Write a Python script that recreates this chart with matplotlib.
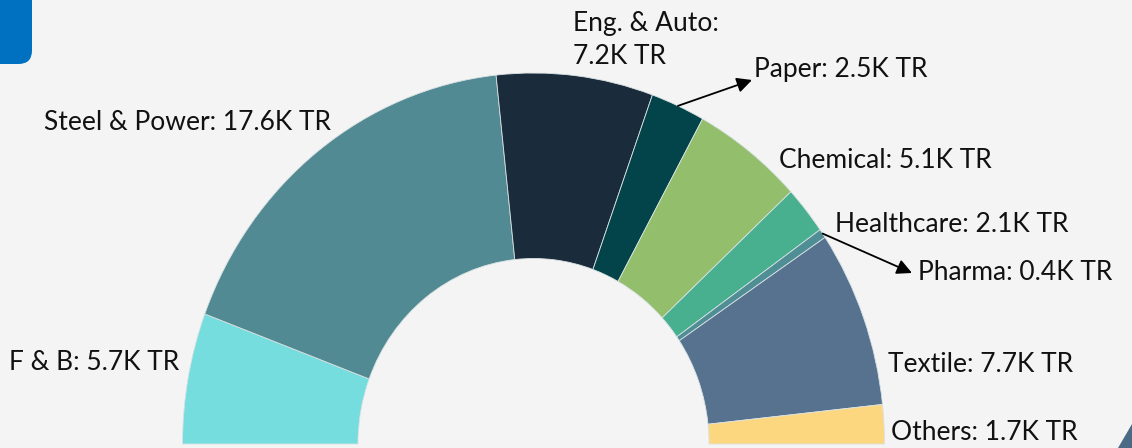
import numpy as np
import matplotlib.pyplot as plt
from matplotlib.patches import FancyBboxPatch, Polygon

# installed capacity by sector (K TR)
sectors = ['F & B', 'Steel & Power', 'Eng. & Auto', 'Paper', 'Chemical',
           'Healthcare', 'Pharma', 'Textile', 'Others']
capacity = [5.7, 17.6, 7.2, 2.5, 5.1, 2.1, 0.4, 7.7, 1.7]
colors = ['#76DDDE', '#528A93', '#1A2B3B', '#024449', '#93BF6C',
          '#48AF8F', '#4E8E94', '#56728E', '#FDD77F']

W, H = 1132, 448
CX, CY, RX, RY = 533.5, 444, 351, 371

plt.rcParams['font.family'] = ['Lato', 'DejaVu Sans']

fig = plt.figure(figsize=(W / 100, H / 100), dpi=100)
fig.patch.set_facecolor('#F4F4F4')
ax = fig.add_axes([0, 0, 1, 1])
ax.set_facecolor('none')

# half donut: the hidden last wedge takes the lower half
values = capacity + [sum(capacity)]
wedges, _ = ax.pie(values, colors=colors + ['none'], startangle=180,
                   counterclock=False, radius=1.0,
                   wedgeprops=dict(width=0.5, edgecolor='#d9e2e4', linewidth=0.6))
wedges[-1].set_visible(False)
ax.set_aspect('auto')
ax.set_xlim(-CX / RX, (W - CX) / RX)
ax.set_ylim(-(H - CY) / RY, CY / RY)
ax.axis('off')


def fx(x, y):
    return x / W, 1 - y / H


labels = [f'{s}: {v}K TR' for s, v in zip(sectors, capacity)]
labels[2] = f'{sectors[2]}:\n{capacity[2]}K TR'
label_pos = [
    (179, 363, 'right'),
    (44, 122, 'left'),
    (573, 40, 'left'),
    (754, 70, 'left'),
    (779, 161, 'left'),
    (835, 224, 'left'),
    (918, 272, 'left'),
    (888, 364, 'left'),
    (891, 432, 'left'),
]
for lab, (x, y, ha) in zip(labels, label_pos):
    fig.text(*fx(x, y), lab, ha=ha, va='center', fontsize=19, color='#111111',
             linespacing=1.4)

# leader arrows for the small slices, starting at the slice's outer edge
arrow_ends = {3: (752, 80), 6: (912, 273)}
for i, end in arrow_ends.items():
    mid = np.deg2rad((wedges[i].theta1 + wedges[i].theta2) / 2)
    start = (np.cos(mid), np.sin(mid))
    ax.annotate('', xy=fx(*end), xycoords='figure fraction',
                xytext=start, textcoords='data',
                arrowprops=dict(arrowstyle='-|>,head_length=0.9,head_width=0.45',
                                color='black', lw=1.3, shrinkA=0, shrinkB=0))

# slide decorations
fig.patches.append(FancyBboxPatch((-0.02, 1 - 64 / H), 0.02 + 32 / W, 0.2,
                                  boxstyle='round,pad=0,rounding_size=0.012',
                                  transform=fig.transFigure, facecolor='#0070C0',
                                  edgecolor='none', mutation_aspect=W / H))
fig.patches.append(Polygon([fx(1118, 448), fx(1132, 424), fx(1132, 448)],
                           closed=True, transform=fig.transFigure,
                           facecolor='#4C6A86', edgecolor='none'))

fig.savefig('out.png', dpi=100, facecolor=fig.get_facecolor())
